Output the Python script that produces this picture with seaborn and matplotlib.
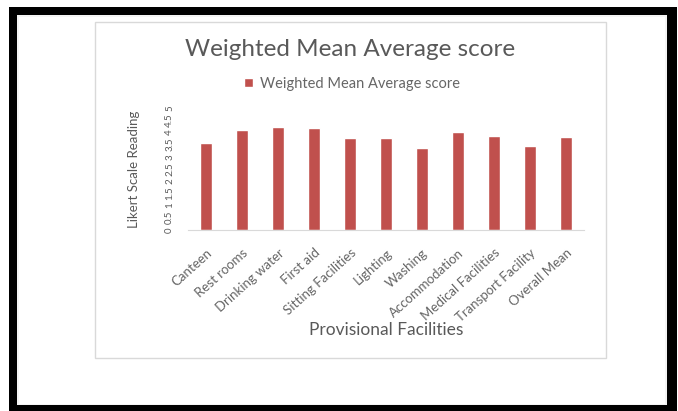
import numpy as np
import pandas as pd
import matplotlib
matplotlib.use("Agg")
import matplotlib.pyplot as plt
from matplotlib.patches import Rectangle
import seaborn as sns

facilities = ["Canteen", "Rest rooms", "Drinking water", "First aid",
              "Sitting Facilities", "Lighting", "Washing", "Accommodation",
              "Medical Facilities", "Transport Facility", "Overall Mean"]
scores = [3.58, 4.10, 4.23, 4.19, 3.76, 3.78, 3.35, 4.00, 3.85, 3.44, 3.80]
y_ticks = [0, 0.5, 1, 1.5, 2, 2.5, 3, 3.5, 4, 4.5, 5]
y_tick_labels = ["0", "0.5", "1", "1.5", "2", "2.5", "3", "3.5", "4", "4.5", "5"]

series_name = "Weighted Mean Average score"
bar_color = "#C0504D"
text_color = "#595959"

sns.set_theme(style="white")
plt.rcParams["font.family"] = ["Lato", "DejaVu Sans"]

W, H = 678, 411
fig = plt.figure(figsize=(W / 100, H / 100), dpi=100)
fig.patch.set_facecolor("white")


def px_rect(x0, y0, x1, y1, **kw):
    """Rectangle given in pixel coordinates measured from the top-left."""
    return Rectangle((x0 / W, 1 - y1 / H), (x1 - x0) / W, (y1 - y0) / H,
                     transform=fig.transFigure, **kw)


# thick black picture frame
fig.patches.append(px_rect(9, 7, 677, 411, facecolor="black", edgecolor="none", zorder=-5))
fig.patches.append(px_rect(17, 15, 667, 405, facecolor="#f4f4f4", edgecolor="none", zorder=-4))
fig.patches.append(px_rect(19, 17, 665, 404, facecolor="white", edgecolor="none", zorder=-3))
# chart area box
fig.patches.append(px_rect(95, 22, 606, 358, facecolor="white", edgecolor="#d9d9d9",
                           linewidth=1.0, zorder=-2))

ax = fig.add_axes([188 / W, 1 - 230 / H, 396 / W, 122 / H])
ax.set_facecolor("none")

df = pd.DataFrame({"Facility": facilities, "Score": scores})
sns.barplot(data=df, x="Facility", y="Score", color=bar_color, width=0.33,
            saturation=1, ax=ax, label=series_name)

ax.set_ylim(0, 5)
ax.set_yticks(y_ticks)
ax.set_yticklabels(y_tick_labels, rotation=90, va="center", fontsize=7, color=text_color)
ax.set_xticks(range(len(facilities)))
ax.set_xticklabels(facilities, rotation=42, ha="right", rotation_mode="anchor",
                   fontsize=9.5, color="#666666")
ax.tick_params(axis="x", length=0, pad=12)
ax.tick_params(axis="y", length=0, pad=10)

for side in ["top", "right", "left"]:
    ax.spines[side].set_visible(False)
ax.spines["bottom"].set_color("#d9d9d9")
ax.spines["bottom"].set_linewidth(0.8)

ax.set_xlabel("Provisional Facilities", fontsize=12.5, color=text_color)
ax.xaxis.set_label_coords((386 - 188) / 396, -(322 - 230) / 122)
ax.set_ylabel("Likert Scale Reading", fontsize=9.5, color=text_color)
ax.yaxis.set_label_coords(-(188 - 140) / 396, 0.5)

fig.text(350 / W, 1 - 50 / H, series_name, ha="center", va="center",
         fontsize=17.5, color=text_color)

leg = ax.legend(loc="center", bbox_to_anchor=((352 - 188) / 396, 1 + (108 - 84) / 122),
                frameon=False, fontsize=10.5, handlelength=0.6, handleheight=0.6,
                handletextpad=0.5, labelcolor="#666666")

fig.savefig("out.png", dpi=100, facecolor="white")
